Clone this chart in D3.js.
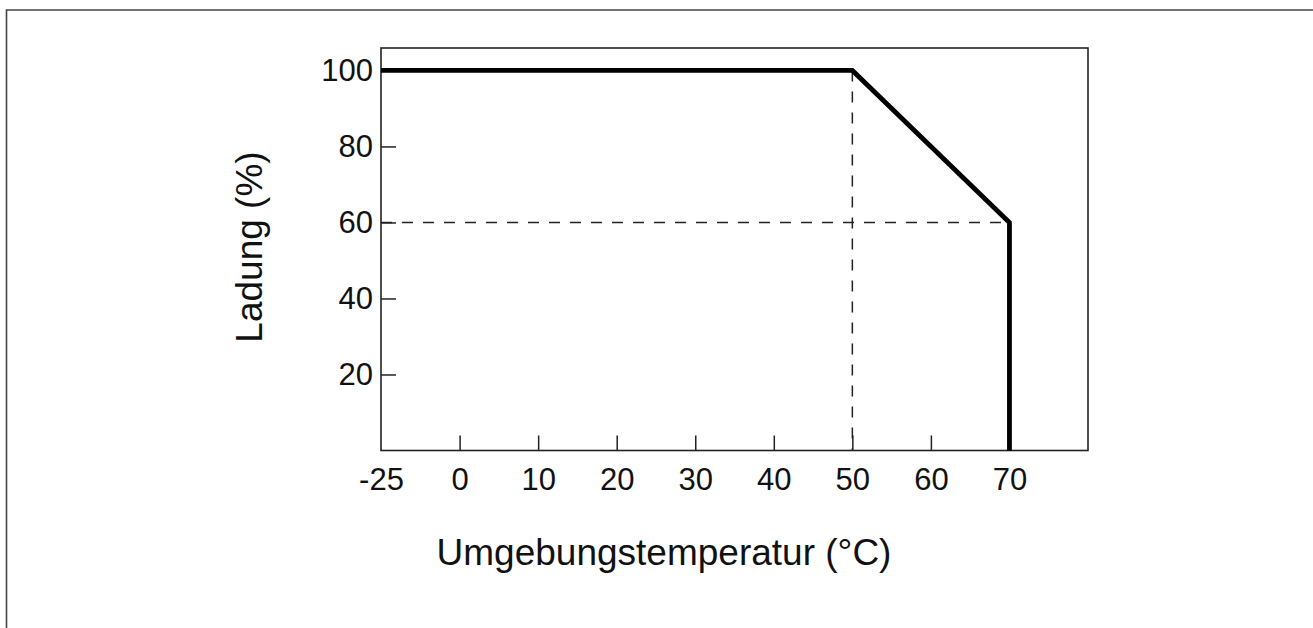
<!DOCTYPE html>
<html>
<head>
<meta charset="utf-8">
<script src="https://cdn.jsdelivr.net/npm/d3@7"></script>
<style>
  body { margin: 0; background: #fff; }
  text { font-family: "Liberation Sans", Arial, sans-serif; fill: #111; }
</style>
</head>
<body>
<svg id="chart" width="1313" height="628"></svg>
<script>
// Derating curve: load vs. ambient temperature
var temps = [-25, 50, 70, 70];
var loads = [100, 100, 60, 0];
var xTicks = [-25, 0, 10, 20, 30, 40, 50, 60, 70];
var yTicks = [20, 40, 60, 80, 100];

var svg = d3.select("#chart");
var box = {left: 381, right: 1088, top: 48, bottom: 450.5};

// outer frame (only top and left edges are visible)
svg.append("path")
    .attr("d", "M6.5,628V10H1313")
    .attr("fill", "none")
    .attr("stroke", "#444")
    .attr("stroke-width", 1.6);

// broken axis: -25 sits at the left edge, one step before 0
var x = d3.scaleLinear()
    .domain([-25, 0, 80])
    .range([box.left, box.left + 78.6, box.right]);
var y = d3.scaleLinear()
    .domain([0, 105.9])
    .range([box.bottom, box.top]);

var xAxis = svg.append("g")
    .attr("transform", "translate(0," + box.bottom + ")")
    .call(d3.axisBottom(x).tickValues(xTicks).tickFormat(function(d) { return String(d); })
        .tickSizeInner(-15).tickSizeOuter(0).tickPadding(17));
var yAxis = svg.append("g")
    .attr("transform", "translate(" + box.left + ",0)")
    .call(d3.axisLeft(y).tickValues(yTicks)
        .tickSizeInner(-15).tickSizeOuter(0).tickPadding(8));

[xAxis, yAxis].forEach(function(g) {
    g.select(".domain").remove();
    g.selectAll(".tick line").attr("stroke", "#222").attr("stroke-width", 1.5);
    g.selectAll(".tick text").style("font-size", "31px").attr("fill", "#111");
});
xAxis.selectAll(".tick").filter(function(d) { return d === -25; }).select("line").remove();

// plot frame
svg.append("rect")
    .attr("x", box.left).attr("y", box.top)
    .attr("width", box.right - box.left).attr("height", box.bottom - box.top)
    .attr("fill", "none")
    .attr("stroke", "#222")
    .attr("stroke-width", 1.6);

// dashed guides at the knee points
var knee = {t: temps[1], l: loads[2], tEnd: temps[2]};
svg.append("line")
    .attr("x1", x(knee.t)).attr("x2", x(knee.t))
    .attr("y1", y(loads[1])).attr("y2", y(0))
    .attr("stroke", "#222").attr("stroke-width", 1.5)
    .attr("stroke-dasharray", "11,10");
svg.append("line")
    .attr("x1", x(-25)).attr("x2", x(knee.tEnd))
    .attr("y1", y(knee.l)).attr("y2", y(knee.l))
    .attr("stroke", "#222").attr("stroke-width", 1.5)
    .attr("stroke-dasharray", "11,10");

// curve
var line = d3.line()
    .x(function(d, i) { return x(temps[i]); })
    .y(function(d, i) { return y(loads[i]); });
svg.append("path")
    .datum(temps)
    .attr("d", line)
    .attr("fill", "none")
    .attr("stroke", "#000")
    .attr("stroke-width", 4.8)
    .attr("stroke-linejoin", "miter");

// axis titles
svg.append("text")
    .attr("x", 664).attr("y", 565)
    .attr("text-anchor", "middle")
    .style("font-size", "37px")
    .text("Umgebungstemperatur (°C)");
svg.append("text")
    .attr("transform", "translate(262,247) rotate(-90)")
    .attr("text-anchor", "middle")
    .style("font-size", "37px")
    .text("Ladung (%)");
</script>
</body>
</html>
